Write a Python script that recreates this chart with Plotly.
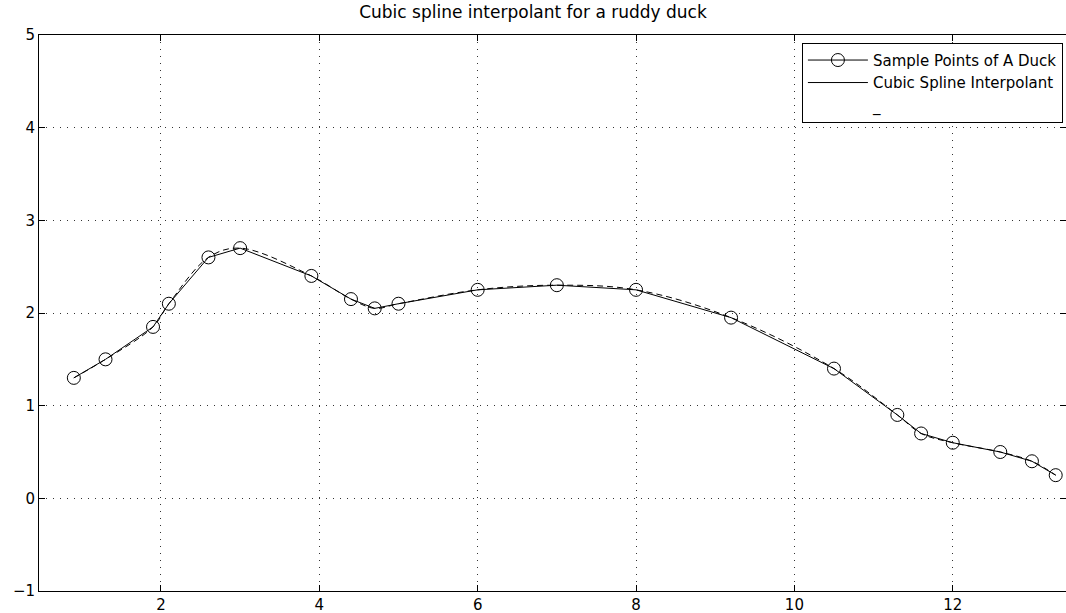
import plotly.graph_objects as go

x_pts = [0.9, 1.3, 1.9, 2.1, 2.6, 3.0, 3.9, 4.4, 4.7, 5.0, 6.0, 7.0, 8.0, 9.2, 10.5, 11.3, 11.6, 12.0, 12.6, 13.0, 13.3]
y_pts = [1.3, 1.5, 1.85, 2.1, 2.6, 2.7, 2.4, 2.15, 2.05, 2.1, 2.25, 2.3, 2.25, 1.95, 1.4, 0.9, 0.7, 0.6, 0.5, 0.4, 0.25]
x_ticks = [2, 4, 6, 8, 10, 12]
y_ticks = [-1, 0, 1, 2, 3, 4, 5]
title = "Cubic spline interpolant for a ruddy duck"
names = ["Sample Points of A Duck", "Cubic Spline Interpolant", "_"]

FONT = "DejaVu Sans, Liberation Sans, Arial, sans-serif"

fig = go.Figure()
fig.add_trace(go.Scatter(x=x_pts, y=y_pts, mode="lines+markers", name=names[0],
                         line=dict(color="black", width=1),
                         marker=dict(symbol="circle-open", size=13, color="black", line=dict(width=1))))
# spline curve (dashed), drawn by the library's spline smoothing
fig.add_trace(go.Scatter(x=x_pts, y=y_pts, mode="lines", showlegend=False,
                         line=dict(color="black", width=1, dash="6px,4px", shape="spline", smoothing=1.0)))
# legend-only entries
fig.add_trace(go.Scatter(x=[None], y=[None], mode="lines", name=names[1],
                         line=dict(color="black", width=1)))
fig.add_trace(go.Scatter(x=[None], y=[None], mode="lines", name=names[2],
                         line=dict(color="rgba(0,0,0,0)", width=0)))

axis_common = dict(showline=True, linecolor="black", linewidth=1, mirror="allticks",
                   ticks="inside", ticklen=6, tickcolor="black",
                   showgrid=True, gridcolor="#333", gridwidth=1, griddash="1px,6px",
                   zeroline=False, automargin=False,
                   tickfont=dict(family=FONT, size=15, color="black"))

fig.update_layout(
    width=1066, height=613,
    margin=dict(l=39, r=0, t=35, b=22),
    paper_bgcolor="white", plot_bgcolor="white",
    title=dict(text=title, x=0.5, xanchor="center", y=0.980, yanchor="middle",
               font=dict(family=FONT, size=17, color="black")),
    xaxis=dict(range=[0.46, 13.43], tickvals=x_ticks, **axis_common),
    yaxis=dict(range=[-1, 5], tickvals=y_ticks, tickformat="d", **axis_common),
    legend=dict(x=0.997, y=0.986, xanchor="right", yanchor="top",
                bgcolor="white", bordercolor="black", borderwidth=1,
                font=dict(family=FONT, size=15, color="black"),
                tracegroupgap=0, itemwidth=60),
    showlegend=True,
)

fig.write_html("out.html", config={"displayModeBar": False},
               post_script="document.body.style.margin='0';document.body.style.overflow='hidden';")
